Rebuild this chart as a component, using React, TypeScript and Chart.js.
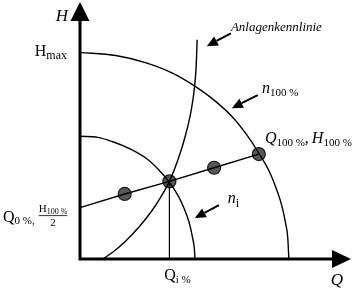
import React, { useEffect, useRef } from "react";
import { Chart, registerables } from "chart.js";

Chart.register(...registerables);

// Pump curve at 100 % speed (Q in %, H in % of H100)
const n100Q = [0, 20, 37, 52, 64, 76, 86, 93, 100, 106, 110, 113, 115, 116.2, 116.8];
const n100H = [197, 194, 187, 177, 165, 150, 134, 119, 101, 83, 66, 50, 34, 20, 0];

// Pump curve at reduced speed n_i
const niQ = [0, 10, 18, 28, 37, 44, 50, 55, 58, 61, 63, 64, 64.3];
const niH = [117, 116, 112, 105, 96, 85, 73, 60, 49, 35, 20, 9, 0];

// System curve (Anlagenkennlinie)
const sysQ = [12.8, 19, 26, 33, 40, 45, 50, 55, 59, 62, 64, 65, 65.5];
const sysH = [0, 7.4, 17.9, 30.5, 45.5, 58.5, 74, 95.5, 118, 140, 163, 185, 209];

// Control line from (Q0 %, H100 %/2) to (Q100 %, H100 %)
const ctrlQ = [0, 25, 50, 75, 100];
const ctrlH = [49, 62, 74, 87, 100];
const dotQ = [25, 50, 75, 100];
const dotH = [62, 74, 87, 100];

// Operating point vertical
const opQ = [50, 50];
const opH = [0, 74];

const HMAX = 197;
const QMAX = 151;
const HTOP = 245;

const pts = (q: number[], h: number[]) => q.map((v, i) => ({ x: v, y: h[i] }));

const SERIF = '"Liberation Serif", "DejaVu Serif", serif';
const font = (style: string, size: number) => `${style} ${size}px ${SERIF}`;

function textSub(
  ctx: CanvasRenderingContext2D,
  x: number,
  y: number,
  main: string,
  sub: string,
  size: number,
  subSize: number,
  mainStyle: string,
  subStyle: string,
  align: "left" | "right" | "center" = "left",
  subDrop = 4
) {
  ctx.font = font(mainStyle, size);
  const w1 = ctx.measureText(main).width;
  ctx.font = font(subStyle, subSize);
  const w2 = ctx.measureText(sub).width;
  const total = w1 + w2;
  let sx = x;
  if (align === "right") sx = x - total;
  if (align === "center") sx = x - total / 2;
  ctx.textAlign = "left";
  ctx.textBaseline = "alphabetic";
  ctx.font = font(mainStyle, size);
  ctx.fillText(main, sx, y);
  ctx.font = font(subStyle, subSize);
  ctx.fillText(sub, sx + w1, y + subDrop);
  return sx + total;
}

function arrow(ctx: CanvasRenderingContext2D, x1: number, y1: number, x2: number, y2: number, head = 11, half = 5) {
  const ang = Math.atan2(y2 - y1, x2 - x1);
  const bx = x2 - head * Math.cos(ang);
  const by = y2 - head * Math.sin(ang);
  ctx.beginPath();
  ctx.moveTo(x1, y1);
  ctx.lineTo(bx, by);
  ctx.lineWidth = 2;
  ctx.strokeStyle = "#000";
  ctx.stroke();
  ctx.beginPath();
  ctx.moveTo(x2, y2);
  ctx.lineTo(bx + half * Math.sin(ang), by - half * Math.cos(ang));
  ctx.lineTo(bx - half * Math.sin(ang), by + half * Math.cos(ang));
  ctx.closePath();
  ctx.fillStyle = "#000";
  ctx.fill();
}

const decor = {
  id: "decor",
  afterDatasetsDraw(chart: any) {
    const ctx: CanvasRenderingContext2D = chart.ctx;
    const xs = chart.scales.x;
    const ys = chart.scales.y;
    const X = (v: number) => xs.getPixelForValue(v);
    const Y = (v: number) => ys.getPixelForValue(v);
    const x0 = X(0);
    const y0 = Y(0);
    const top = chart.chartArea.top;
    const right = chart.chartArea.right;
    ctx.save();
    ctx.fillStyle = "#000";
    ctx.strokeStyle = "#000";
    // axes
    ctx.lineWidth = 3;
    ctx.beginPath();
    ctx.moveTo(x0, y0 + 1.5);
    ctx.lineTo(x0, top + 16);
    ctx.moveTo(x0 - 1.5, y0);
    ctx.lineTo(right - 16, y0);
    ctx.stroke();
    // arrow heads
    ctx.beginPath();
    ctx.moveTo(x0, top);
    ctx.lineTo(x0 - 9.5, top + 19);
    ctx.lineTo(x0 + 9.5, top + 19);
    ctx.closePath();
    ctx.fill();
    ctx.beginPath();
    ctx.moveTo(right + 1, y0);
    ctx.lineTo(right - 18, y0 - 9);
    ctx.lineTo(right - 18, y0 + 9);
    ctx.closePath();
    ctx.fill();

    // axis labels
    ctx.textBaseline = "alphabetic";
    ctx.font = font("italic", 17);
    ctx.textAlign = "right";
    ctx.fillText("H", x0 - 12, top + 19);
    ctx.textAlign = "center";
    ctx.fillText("Q", right - 13, y0 + 26);

    // Hmax
    textSub(ctx, x0 - 13, Y(HMAX) + 4, "H", "max", 16, 12, "normal", "normal", "right", 3);

    // Q_i %
    textSub(ctx, X(50) + 8, y0 + 21, "Q", "i %", 16, 11, "normal", "normal", "center", 3);

    // Q0 %, H100%/2
    const yb = Y(ctrlH[0]) + 14;
    const end = textSub(ctx, 3, yb, "Q", "0 %,", 16, 11, "normal", "normal", "left", 2);
    const fx = end + 4;
    const numEnd = textSub(ctx, fx, yb - 10, "H", "100 %", 11, 8, "normal", "normal", "left", 2);
    ctx.lineWidth = 0.8;
    ctx.beginPath();
    ctx.moveTo(fx, yb - 6);
    ctx.lineTo(numEnd, yb - 6);
    ctx.stroke();
    ctx.font = font("normal", 11);
    ctx.textAlign = "center";
    ctx.fillText("2", (fx + numEnd) / 2, yb + 4);

    // annotations
    ctx.font = font("italic", 13);
    ctx.textAlign = "left";
    ctx.fillText("Anlagenkennlinie", X(84.4), Y(217));
    arrow(ctx, X(84.4), Y(215.2), X(70.9), Y(202.9));

    textSub(ctx, X(101.8), Y(158), "n", "100 %", 16, 11, "italic", "normal", "left", 3);
    arrow(ctx, X(99.4), Y(156.2), X(84.9), Y(143.8));

    const e1 = textSub(ctx, X(103.4), Y(110.5), "Q", "100 %", 16, 11, "italic", "normal", "left", 3);
    ctx.font = font("normal", 16);
    ctx.fillText(",", e1, Y(110.5));
    textSub(ctx, e1 + 7, Y(110.5), "H", "100 %", 16, 11, "italic", "normal", "left", 3);

    textSub(ctx, X(82.7), Y(53), "n", "i", 16, 12, "italic", "normal", "left", 4);
    arrow(ctx, X(77.7), Y(51.4), X(64.2), Y(39.0));

    ctx.restore();
  },
};

export default function App() {
  const ref = useRef<HTMLCanvasElement>(null);
  useEffect(() => {
    if (!ref.current) return;
    const line = (q: number[], h: number[], w = 1.4, curved = true) => ({
      data: pts(q, h),
      showLine: true,
      borderColor: "#000",
      borderWidth: w,
      pointRadius: 0,
      cubicInterpolationMode: curved ? ("monotone" as const) : ("default" as const),
      tension: 0,
      fill: false,
      clip: false as any,
    });
    const chart = new Chart(ref.current, {
      type: "scatter",
      data: {
        datasets: [
          line(n100Q, n100H),
          line(niQ, niH),
          line(sysQ, sysH),
          line(ctrlQ, ctrlH, 1.4, false),
          line(opQ, opH, 1.2, false),
          {
            data: pts(dotQ, dotH),
            showLine: false,
            pointRadius: 6.5,
            pointBackgroundColor: "#585858",
            pointBorderColor: "#1a1a1a",
            pointBorderWidth: 1.2,
            clip: false as any,
          },
        ],
      },
      options: {
        animation: false,
        responsive: false,
        devicePixelRatio: 1,
        layout: { autoPadding: false, padding: { left: 80, right: 2, top: 2, bottom: 29 } },
        plugins: { legend: { display: false }, tooltip: { enabled: false } },
        events: [],
        scales: {
          x: { type: "linear", min: 0, max: QMAX, display: false },
          y: { type: "linear", min: 0, max: HTOP, display: false },
        },
      },
      plugins: [decor],
    });
    return () => chart.destroy();
  }, []);
  return (
    <div style={{ position: "fixed", left: 0, top: 0, width: 352, height: 288, background: "#fff" }}>
      <canvas ref={ref} width={352} height={288} />
    </div>
  );
}
